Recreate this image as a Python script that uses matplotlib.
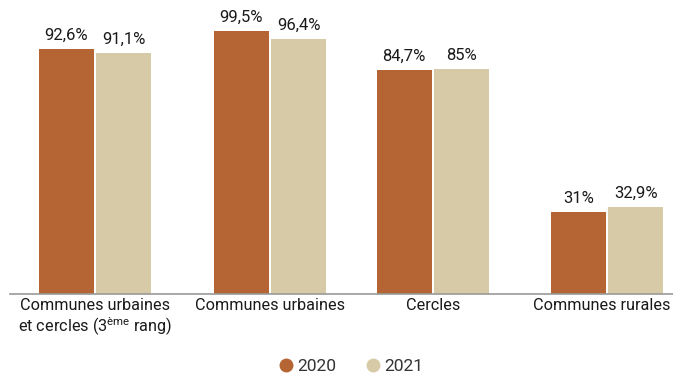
import numpy as np
import matplotlib.pyplot as plt
from matplotlib.transforms import ScaledTranslation

categories = ["Communes urbaines\net cercles (3$^{\\mathregular{ème}}$ rang)",
              "Communes urbaines", "Cercles", "Communes rurales"]
vals_2020 = [92.6, 99.5, 84.7, 31.0]
vals_2021 = [91.1, 96.4, 85.0, 32.9]
labels_2020 = ["92,6%", "99,5%", "84,7%", "31%"]
labels_2021 = ["91,1%", "96,4%", "85%", "32,9%"]

c2020 = "#B56533"
c2021 = "#D7CBA7"

plt.rcParams['font.family'] = ['Roboto', 'DejaVu Sans']

fig = plt.figure(figsize=(6.73, 3.76), dpi=100)
ax = fig.add_axes([10/673, 82/376, 663/673, 294/376])

# group centres as in the original layout (slightly uneven)
x = np.array([0, 1.019, 1.968, 2.982])
w = 0.32
off = 0.167
b1 = ax.bar(x - off, vals_2020, w, color=c2020, label="2020")
b2 = ax.bar(x + off, vals_2021, w, color=c2021, label="2021")

for rects, labs in ((b1, labels_2020), (b2, labels_2021)):
    for r, t in zip(rects, labs):
        ax.text(r.get_x() + r.get_width() / 2, r.get_height() + 2.3, t,
                ha="center", va="bottom", fontsize=12, color="#1a1a1a")

ax.set_xlim(-0.495, 3.366)
ax.set_ylim(0, 111.2)
ax.set_yticks([])
ax.set_xticks(x)
ax.set_xticklabels(categories, fontsize=11.7, color="#1a1a1a", linespacing=1.15)
ax.tick_params(axis="x", length=0, pad=3)
# last label sits a bit left so it stays inside the picture
last = ax.get_xticklabels()[-1]
last.set_transform(last.get_transform() + ScaledTranslation(-5/100, 0, fig.dpi_scale_trans))
for s in ("top", "right", "left"):
    ax.spines[s].set_visible(False)
ax.spines["bottom"].set_color("#999999")
ax.spines["bottom"].set_linewidth(1.2)

h1 = plt.Line2D([], [], marker="o", ls="", color=c2020, markersize=9)
h2 = plt.Line2D([], [], marker="o", ls="", color=c2021, markersize=9)
fig.legend([h1, h2], ["2020", "2021"], loc="center", bbox_to_anchor=(0.52, 10/376),
           ncol=2, frameon=False, fontsize=12.5, handlelength=1.0, handletextpad=0.15,
           columnspacing=1.6, labelcolor="#333333")

fig.savefig("out.png", dpi=100)
